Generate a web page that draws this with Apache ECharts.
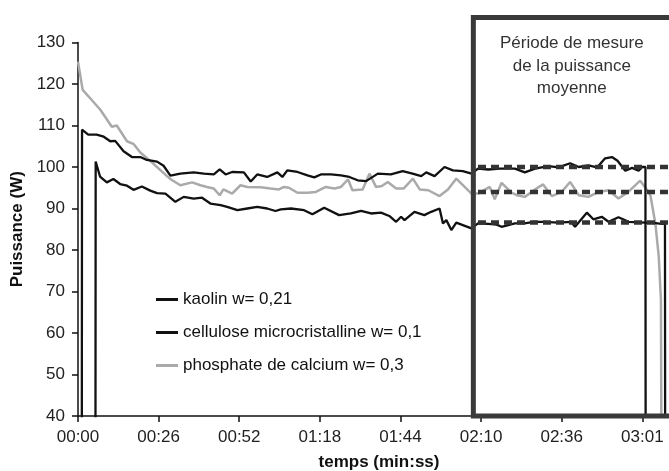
<!DOCTYPE html>
<html><head><meta charset="utf-8">
<script src="https://cdn.jsdelivr.net/npm/echarts/dist/echarts.min.js"></script>
<style>html,body{margin:0;padding:0;background:#fff}#c{width:669px;height:471px}</style>
</head><body><div id="c"></div>
<script>
// x tick labels (every 26 s)
const tickLabels = ['00:00','00:26','00:52','01:18','01:44','02:10','02:36','03:01'];
const seriesNames = ['kaolin w= 0,21','cellulose microcristalline w= 0,1','phosphate de calcium w= 0,3'];

// kaolin (upper black curve) : time (s) and power (W)
const kaolinTime = [0,1.2,1.3,3.3,6,8.3,10.4,12,14.7,17.4,20.1,22.2,25.5,27.6,29.8,33,37.3,40.6,43.8,45.7,47.6,49.7,53.5,55.7,57.8,61,64.3,65.9,67.5,70.8,74,76.2,78.3,81.6,84.8,87.5,90.2,92.9,96.7,100.9,104.7,107.9,110.7,112.3,115,118.2,120.9,124.1,126.9,129,132.3,136,140.9,144.1,147.4,151.7,155,158.7,161.5,164.6,167.4,170,172.2,174,176.5,178.7,180.8,182,183,183.1];
const kaolinPower = [0,0,109.0,107.8,107.8,107.3,106.2,106.3,103.8,102.4,102.4,101.7,101.3,100.3,97.9,98.4,98.7,98.4,98.2,99.4,98.2,98.8,98.7,96.5,98.2,97.6,98.7,97.6,99.2,98.8,98.0,97.5,98.2,98.2,98.0,97.6,96.8,96.6,98.4,98.2,99.0,98.4,97.8,98.7,97.8,100.0,99.2,99.0,98.4,99.6,99.4,99.6,99.6,98.7,99.6,100.2,99.9,100.9,100.0,100.4,99.9,102.1,102.4,101.5,99.1,99.8,99.1,100.0,100.0,0];

// cellulose microcristalline (lower black curve)
const celluloseTime = [0,5.6,5.7,7.1,9.3,11.4,13.6,15.8,17.9,20.6,23.3,25.5,28.2,31.4,34.1,37.3,40,42.7,46,48.1,51.4,54.6,57.8,61,63.7,65.4,68.7,72.9,75.6,79.4,84.2,88,91.3,94.5,97.7,100.4,102.6,104.2,105.3,108.5,111.7,113.9,116.6,117.7,118.8,120.4,122,124.1,126.9,129,132.3,135,136.6,140.9,144,147,150.3,154.9,159,160.3,164.1,166.2,168.9,171.1,174.3,177.6,183,186.2,188.3,189.3,189.4];
const cellulosePower = [0,0,101.3,97.7,96.3,97.1,95.9,95.5,94.5,95.3,94.3,93.7,93.6,91.6,92.8,92.4,92.6,91.2,90.8,90.4,89.6,90.0,90.4,90.0,89.4,89.8,90.0,89.6,88.6,90.2,88.4,88.8,89.4,88.8,89.0,88.2,86.8,88.0,87.2,89.2,88.4,89.2,90.0,86.4,87.2,84.8,86.6,86.0,85.2,86.4,86.3,86.1,85.6,86.4,86.4,86.8,86.8,86.6,86.8,85.6,89.0,87.4,88.0,86.8,87.9,86.8,86.6,86.5,86.3,86.3,0];

// phosphate de calcium (grey curve)
const phosphateTime = [0,1.5,4,7.2,10.9,12.5,15.8,18,20.1,24,28.7,30,33,36.8,39.5,41.6,43.8,45.7,46.9,49.7,52.4,54.6,58.9,62.1,64.8,66.4,68,70.8,74,76.7,79.9,82.7,84.8,87.1,88.5,91.8,94,96.1,98,99.9,102.6,105,108,110.2,113,116.6,119.3,122,124.7,126.9,129,132.8,134.4,136.6,139.8,141.5,144.1,147.4,150,152.8,156,158.7,161.5,164.6,167.9,171.1,174.3,177.5,181.3,183,184.6,186.2,187.3,188,188.3];
const phosphatePower = [125.4,118.6,116.5,113.8,109.7,110.0,106.2,105.5,103.5,101.0,97.8,97.0,95.6,96.3,95.6,95.2,94.8,93.2,94.6,93.6,95.6,95.2,95.1,94.8,94.6,95.2,95.0,93.8,93.8,94.0,95.2,94.8,95.2,97.0,94.4,94.6,98.4,95.2,95.4,96.4,94.8,94.8,97.2,94.6,94.4,93.0,94.6,97.2,95.2,93.6,93.6,95.2,92.2,96.2,93.8,93.2,92.8,94.6,95.8,93.0,94.0,96.4,93.2,92.8,94.0,94.4,92.4,94.0,96.7,95.0,93.2,86.4,78.4,68,0];

// measurement period and mean powers
const periodStart = 127.5;
const periodEnd = 200;
const boxTop = 136;
const meanPower = [100.0, 94.0, 86.6];

const zip = (t, v) => t.map((x, i) => [x, v[i]]);
const FONT = 'Liberation Sans, Arial, sans-serif';

const meanSeries = meanPower.map((m, i) => ({
  name: 'moyenne ' + (i + 1), type: 'line', clip: false, z: 6, silent: true,
  showSymbol: false, symbol: 'none',
  data: [[periodStart + 1.5, m], [periodEnd, m]],
  lineStyle: {color: '#333', width: 4.5, type: [8, 5]}, itemStyle: {color: '#333'}
}));

const chart = echarts.init(document.getElementById('c'), null, {renderer: 'canvas'});
chart.setOption({
  animation: false,
  backgroundColor: '#fff',
  textStyle: {fontFamily: FONT},
  grid: {left: 78, top: 42.5, bottom: 55, right: 0, containLabel: false, outerBoundsMode: 'none'},
  xAxis: {
    type: 'value', min: 0, max: 190.6, interval: 26,
    name: 'temps (min:ss)', nameLocation: 'middle', nameGap: 38,
    nameTextStyle: {fontSize: 17, fontWeight: 'bold', color: '#111', fontFamily: FONT, padding: [0, 0, 0, 11]},
    axisLine: {lineStyle: {color: '#111', width: 1.5}},
    axisTick: {show: true, length: 6, lineStyle: {color: '#111', width: 1.5}},
    axisLabel: {fontSize: 17, color: '#222', margin: 13, showMaxLabel: false,
      formatter: v => { const i = Math.round(v / 26); return Math.abs(v - i * 26) < 0.01 ? (tickLabels[i] || '') : ''; }},
    splitLine: {show: false}
  },
  yAxis: {
    type: 'value', min: 40, max: 130, interval: 10,
    name: 'Puissance (W)', nameLocation: 'middle', nameGap: 52,
    nameTextStyle: {fontSize: 17, fontWeight: 'bold', color: '#111', fontFamily: FONT},
    axisLine: {show: true, lineStyle: {color: '#111', width: 1.5}},
    axisTick: {show: true, length: 6, lineStyle: {color: '#111', width: 1.5}},
    axisLabel: {fontSize: 17, color: '#222', margin: 13},
    splitLine: {show: false}
  },
  legend: {
    data: seriesNames, orient: 'vertical', left: 151, top: 286, itemGap: 16,
    itemWidth: 22, itemHeight: 3, icon: 'rect',
    textStyle: {fontSize: 17, color: '#111', fontFamily: FONT},
    selectedMode: false
  },
  series: [
    {name: seriesNames[2], type: 'line', data: zip(phosphateTime, phosphatePower), showSymbol: false, symbol: 'none',
     lineStyle: {color: '#aaaaaa', width: 2.5}, itemStyle: {color: '#aaaaaa'}, z: 2, clip: true},
    {name: seriesNames[1], type: 'line', data: zip(celluloseTime, cellulosePower), showSymbol: false, symbol: 'none',
     lineStyle: {color: '#111', width: 2.3}, itemStyle: {color: '#111'}, z: 3, clip: true},
    {name: seriesNames[0], type: 'line', data: zip(kaolinTime, kaolinPower), showSymbol: false, symbol: 'none',
     lineStyle: {color: '#111', width: 2.3}, itemStyle: {color: '#111'}, z: 3, clip: true}
  ].concat(meanSeries)
});

// measurement-period frame and its caption, placed through the chart's own scales
const p1 = chart.convertToPixel({gridIndex: 0}, [periodStart, boxTop]);
const p2 = chart.convertToPixel({gridIndex: 0}, [periodEnd, 40]);
const cap = chart.convertToPixel({gridIndex: 0}, [(periodStart + 191) / 2, 132.5]);
chart.setOption({
  graphic: [
    {type: 'rect', z: 20, silent: true,
     shape: {x: p1[0], y: p1[1], width: p2[0] - p1[0], height: p2[1] - p1[1]},
     style: {fill: 'none', stroke: '#3a3a3a', lineWidth: 5}},
    {type: 'text', z: 20, x: cap[0], y: cap[1], silent: true,
     style: {text: 'Période de mesure\nde la puissance\nmoyenne', align: 'center', verticalAlign: 'top',
       fontSize: 17, lineHeight: 22.5, fill: '#333', fontFamily: FONT}}
  ]
});
</script></body></html>
